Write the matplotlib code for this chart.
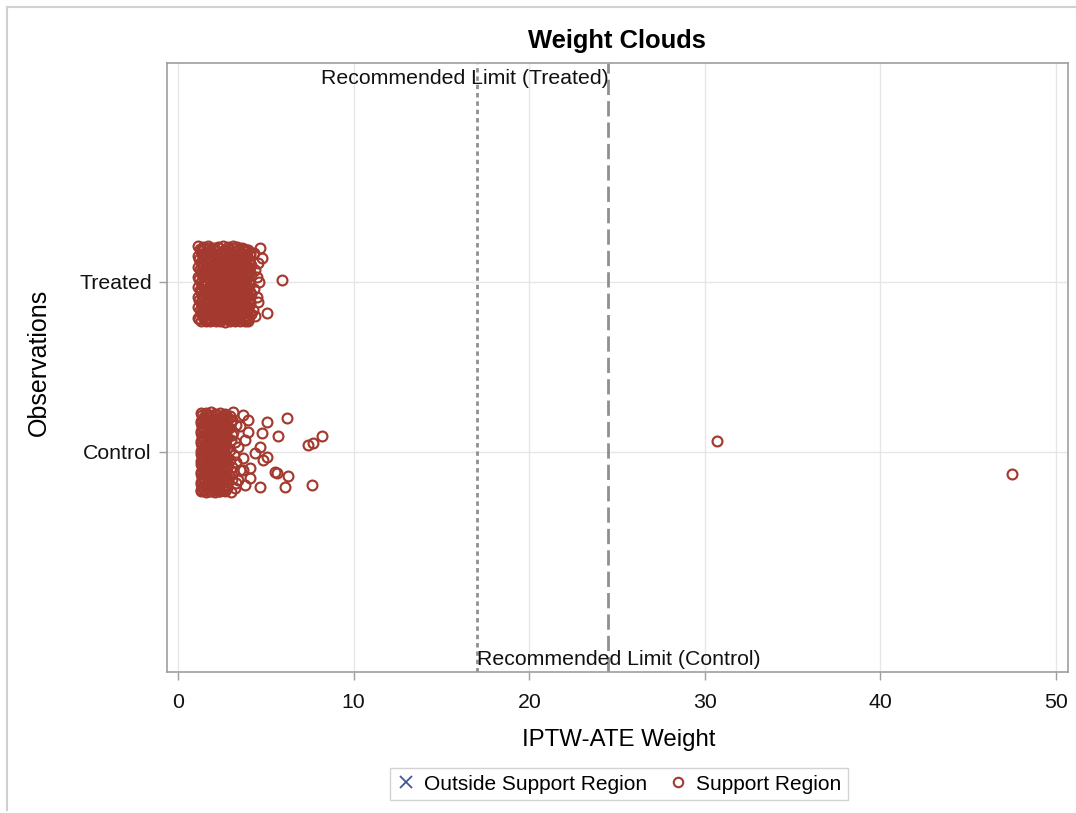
import matplotlib.pyplot as plt
from matplotlib.lines import Line2D

plt.rcParams["font.family"] = ["Liberation Sans", "DejaVu Sans"]

GROUPS = ["Control", "Treated"]
LIMIT_CONTROL = 17.0
LIMIT_TREATED = 24.5

# IPTW-ATE weights per observation, with the vertical jitter used to spread them
treated_x = [
    1.16, 1.44, 1.70, 1.99, 2.26, 2.56, 2.82, 3.12, 3.38, 3.66, 3.93,
    1.30, 1.57, 1.86, 2.12, 2.42, 2.68, 2.97, 3.24, 3.53, 3.80, 4.08,
    1.14, 1.42, 1.72, 1.98, 2.28, 2.54, 2.84, 3.10, 3.40, 3.68, 3.95,
    1.28, 1.58, 1.84, 2.14, 2.40, 2.70, 2.96, 3.26, 3.52, 3.82, 4.05,
    1.15, 1.44, 1.70, 2.00, 2.26, 2.56, 2.82, 3.12, 3.38, 3.66, 3.90,
    1.30, 1.56, 1.86, 2.12, 2.42, 2.68, 2.98, 3.24, 3.54, 3.80, 4.10,
    1.16, 1.42, 1.72, 1.98, 2.28, 2.54, 2.84, 3.10, 3.40, 3.68, 3.96,
    1.29, 1.58, 1.84, 2.14, 2.40, 2.70, 2.96, 3.26, 3.52, 3.82, 4.06,
    1.15, 1.44, 1.70, 2.00, 2.26, 2.56, 2.82, 3.12, 3.38, 3.66, 3.92,
    1.30, 1.56, 1.86, 2.12, 2.42, 2.68, 2.98, 3.24, 3.54, 3.80, 4.08,
    1.16, 1.42, 1.72, 1.98, 2.28, 2.54, 2.84, 3.10, 3.40, 3.68, 3.94,
    1.28, 1.58, 1.84, 2.14, 2.40, 2.70, 2.96, 3.26, 3.52, 3.82, 4.10,
    1.15, 1.44, 1.70, 2.00, 2.26, 2.56, 2.82, 3.12, 3.38, 3.66, 3.95,
    1.30, 1.56, 1.86, 2.12, 2.42, 2.68, 2.98, 3.24, 3.54, 3.80, 4.05,
    1.16, 1.42, 1.72, 1.98, 2.28, 2.54, 2.84, 3.10, 3.40, 3.68, 3.96,
    1.30, 1.58, 1.84, 2.14, 2.40, 2.70, 2.96, 3.26, 3.52, 3.82, 4.00,
    1.23, 1.50, 1.78, 2.06, 2.34, 2.62, 2.90, 3.18, 3.46, 3.74, 4.00,
    1.36, 1.64, 1.92, 2.20, 2.48, 2.76, 3.04, 3.32, 3.60, 3.88, 4.12,
    1.22, 1.51, 1.77, 2.06, 2.33, 2.62, 2.91, 3.18, 3.47, 3.74, 4.02,
    1.36, 1.63, 1.92, 2.21, 2.48, 2.76, 3.03, 3.32, 3.60, 3.89, 4.14,
    1.23, 1.50, 1.79, 2.06, 2.34, 2.61, 2.90, 3.19, 3.46, 3.75, 3.99,
    1.35, 1.64, 1.92, 2.20, 2.49, 2.76, 3.04, 3.32, 3.61, 3.88, 4.15,
    1.22, 1.50, 1.78, 2.07, 2.34, 2.62, 2.90, 3.18, 3.46, 3.74, 4.03,
    1.36, 1.64, 1.91, 2.20, 2.48, 2.77, 3.04, 3.31, 3.60, 3.88, 4.12,
    1.23, 1.51, 1.78, 2.06, 2.33, 2.62, 2.91, 3.18, 3.47, 3.74, 4.00,
    1.36, 1.63, 1.92, 2.21, 2.48, 2.76, 3.03, 3.32, 3.60, 3.89, 4.16,
    1.22, 1.50, 1.79, 2.06, 2.34, 2.61, 2.90, 3.19, 3.46, 3.75, 4.02,
    1.35, 1.64, 1.92, 2.20, 2.49, 2.76, 3.04, 3.32, 3.61, 3.88, 4.10,
    1.23, 1.50, 1.78, 2.07, 2.34, 2.62, 2.90, 3.18, 3.46, 3.74, 4.01,
    1.36, 1.64, 1.91, 2.20, 2.48, 2.77, 3.04, 3.31, 3.60, 3.88, 4.13,
    1.22, 1.51, 1.78, 2.06, 2.33, 2.62, 2.91, 3.18, 3.47, 3.74, 3.98,
    4.67, 4.78, 4.56, 4.35, 4.50, 4.40, 4.60, 4.30, 4.50, 4.56, 4.27, 4.40,
    5.92, 5.07,
]
treated_y = [
    0.210, 0.205, 0.212, 0.200, 0.208, 0.214, 0.203, 0.210, 0.206, 0.200, 0.190,
    0.180, 0.176, 0.184, 0.180, 0.172, 0.182, 0.178, 0.185, 0.174, 0.180, 0.170,
    0.150, 0.154, 0.146, 0.152, 0.148, 0.155, 0.150, 0.144, 0.152, 0.147, 0.150,
    0.120, 0.116, 0.124, 0.118, 0.122, 0.115, 0.120, 0.125, 0.117, 0.121, 0.120,
    0.090, 0.094, 0.087, 0.092, 0.085, 0.090, 0.095, 0.088, 0.091, 0.086, 0.090,
    0.060, 0.056, 0.063, 0.058, 0.064, 0.060, 0.055, 0.062, 0.058, 0.061, 0.060,
    0.030, 0.034, 0.027, 0.032, 0.026, 0.030, 0.035, 0.028, 0.031, 0.025, 0.030,
    0.000, -0.004, 0.003, -0.002, 0.005, 0.000, -0.005, 0.002, -0.003, 0.004, 0.000,
    -0.030, -0.026, -0.034, -0.028, -0.032, -0.025, -0.030, -0.035, -0.027, -0.031, -0.030,
    -0.060, -0.064, -0.056, -0.062, -0.058, -0.065, -0.060, -0.055, -0.063, -0.059, -0.060,
    -0.090, -0.086, -0.094, -0.088, -0.092, -0.085, -0.090, -0.095, -0.087, -0.091, -0.090,
    -0.120, -0.124, -0.116, -0.122, -0.118, -0.125, -0.120, -0.115, -0.123, -0.119, -0.120,
    -0.150, -0.146, -0.154, -0.148, -0.152, -0.145, -0.150, -0.155, -0.147, -0.151, -0.150,
    -0.180, -0.184, -0.176, -0.182, -0.178, -0.185, -0.180, -0.175, -0.183, -0.179, -0.180,
    -0.210, -0.206, -0.214, -0.208, -0.212, -0.205, -0.210, -0.215, -0.207, -0.211, -0.210,
    -0.230, -0.232, -0.228, -0.231, -0.229, -0.233, -0.230, -0.227, -0.232, -0.229, -0.230,
    0.195, 0.192, 0.198, 0.194, 0.197, 0.191, 0.196, 0.199, 0.193, 0.195, 0.190,
    0.165, 0.168, 0.162, 0.166, 0.163, 0.169, 0.164, 0.161, 0.167, 0.165, 0.160,
    0.135, 0.132, 0.138, 0.134, 0.137, 0.131, 0.136, 0.139, 0.133, 0.135, 0.130,
    0.105, 0.108, 0.102, 0.106, 0.103, 0.109, 0.104, 0.101, 0.107, 0.105, 0.100,
    0.075, 0.072, 0.078, 0.074, 0.077, 0.071, 0.076, 0.079, 0.073, 0.075, 0.070,
    0.045, 0.048, 0.042, 0.046, 0.043, 0.049, 0.044, 0.041, 0.047, 0.045, 0.040,
    0.015, 0.012, 0.018, 0.014, 0.017, 0.011, 0.016, 0.019, 0.013, 0.015, 0.010,
    -0.015, -0.012, -0.018, -0.014, -0.017, -0.011, -0.016, -0.019, -0.013, -0.015, -0.010,
    -0.045, -0.048, -0.042, -0.046, -0.043, -0.049, -0.044, -0.041, -0.047, -0.045, -0.040,
    -0.075, -0.072, -0.078, -0.074, -0.077, -0.071, -0.076, -0.079, -0.073, -0.075, -0.070,
    -0.105, -0.108, -0.102, -0.106, -0.103, -0.109, -0.104, -0.101, -0.107, -0.105, -0.100,
    -0.135, -0.132, -0.138, -0.134, -0.137, -0.131, -0.136, -0.139, -0.133, -0.135, -0.130,
    -0.165, -0.168, -0.162, -0.166, -0.163, -0.169, -0.164, -0.161, -0.167, -0.165, -0.160,
    -0.195, -0.192, -0.198, -0.194, -0.197, -0.191, -0.196, -0.199, -0.193, -0.195, -0.190,
    -0.220, -0.218, -0.222, -0.219, -0.221, -0.217, -0.220, -0.223, -0.218, -0.221, -0.215,
    0.200, 0.140, 0.110, 0.170, 0.030, 0.070, 0.000, -0.040, -0.090, -0.120, -0.165, -0.200,
    0.010, -0.180,
]

control_x = [
    1.29, 1.57, 1.85, 2.13, 2.41, 2.69,
    1.43, 1.71, 1.99, 2.27, 2.55, 2.80,
    1.29, 1.57, 1.85, 2.13, 2.41, 2.69,
    1.43, 1.71, 1.99, 2.27, 2.55, 2.80,
    1.29, 1.57, 1.85, 2.13, 2.41, 2.69,
    1.43, 1.71, 1.99, 2.27, 2.55, 2.80,
    1.29, 1.57, 1.85, 2.13, 2.41, 2.69,
    1.43, 1.71, 1.99, 2.27, 2.55, 2.80,
    1.29, 1.57, 1.85, 2.13, 2.41, 2.69,
    1.43, 1.71, 1.99, 2.27, 2.55, 2.80,
    1.29, 1.57, 1.85, 2.13, 2.41, 2.69,
    1.43, 1.71, 1.99, 2.27, 2.55, 2.80,
    1.29, 1.57, 1.85, 2.13, 2.41, 2.69,
    1.43, 1.71, 1.99, 2.27, 2.55, 2.80,
    1.29, 1.57, 1.85, 2.13, 2.41, 2.69,
    1.43, 1.71, 1.99, 2.27, 2.55, 2.80,
    1.29, 1.57, 1.85, 2.13, 2.41, 2.69,
    1.36, 1.64, 1.92, 2.20, 2.48, 2.74,
    1.30, 1.50, 1.78, 2.06, 2.34, 2.62,
    1.36, 1.64, 1.92, 2.20, 2.48, 2.74,
    1.30, 1.50, 1.78, 2.06, 2.34, 2.62,
    1.36, 1.64, 1.92, 2.20, 2.48, 2.74,
    1.30, 1.50, 1.78, 2.06, 2.34, 2.62,
    1.36, 1.64, 1.92, 2.20, 2.48, 2.74,
    1.30, 1.50, 1.78, 2.06, 2.34, 2.62,
    1.36, 1.64, 1.92, 2.20, 2.48, 2.74,
    1.30, 1.50, 1.78, 2.06, 2.34, 2.62,
    1.36, 1.64, 1.92, 2.20, 2.48, 2.74,
    1.30, 1.50, 1.78, 2.06, 2.34, 2.62,
    1.36, 1.64, 1.92, 2.20, 2.48, 2.74,
    1.30, 1.50, 1.78, 2.06, 2.34, 2.62,
    1.36, 1.64, 1.92, 2.20, 2.48, 2.74,
    1.30, 1.50, 1.78, 2.06, 2.34, 2.62,
    3.13, 3.30, 3.02, 3.19, 3.08, 3.30, 3.00, 3.42, 3.53, 3.70,
    3.99, 3.99, 3.53, 4.10, 3.70, 4.10, 3.42, 4.38, 4.67, 4.78,
    5.07, 6.20, 5.69, 5.07, 4.84, 5.52, 5.64, 6.26, 4.67, 6.09,
    7.63, 7.40, 7.69, 8.20, 3.82, 3.70, 3.30, 2.90, 2.90, 3.08, 3.82,
    2.95, 3.05, 2.98, 3.10, 2.96, 3.04, 3.22, 3.15, 3.25, 3.12,
    30.7, 47.5,
]
control_y = [
    0.232, 0.228, 0.233, 0.226, 0.230, 0.224,
    0.200, 0.205, 0.196, 0.202, 0.198, 0.204,
    0.170, 0.166, 0.174, 0.168, 0.172, 0.165,
    0.140, 0.145, 0.136, 0.142, 0.138, 0.144,
    0.110, 0.106, 0.114, 0.108, 0.112, 0.105,
    0.080, 0.085, 0.076, 0.082, 0.078, 0.084,
    0.050, 0.046, 0.054, 0.048, 0.052, 0.045,
    0.020, 0.025, 0.016, 0.022, 0.018, 0.024,
    -0.010, -0.014, -0.006, -0.012, -0.008, -0.015,
    -0.040, -0.035, -0.044, -0.038, -0.042, -0.036,
    -0.070, -0.074, -0.066, -0.072, -0.068, -0.075,
    -0.100, -0.095, -0.104, -0.098, -0.102, -0.096,
    -0.130, -0.134, -0.126, -0.132, -0.128, -0.135,
    -0.160, -0.155, -0.164, -0.158, -0.162, -0.156,
    -0.190, -0.194, -0.186, -0.192, -0.188, -0.195,
    -0.215, -0.212, -0.218, -0.214, -0.216, -0.210,
    -0.232, -0.234, -0.230, -0.233, -0.231, -0.228,
    0.215, 0.218, 0.212, 0.216, 0.213, 0.219,
    0.185, 0.182, 0.188, 0.184, 0.187, 0.181,
    0.155, 0.158, 0.152, 0.156, 0.153, 0.159,
    0.125, 0.122, 0.128, 0.124, 0.127, 0.121,
    0.095, 0.098, 0.092, 0.096, 0.093, 0.099,
    0.065, 0.062, 0.068, 0.064, 0.067, 0.061,
    0.035, 0.038, 0.032, 0.036, 0.033, 0.039,
    0.005, 0.002, 0.008, 0.004, 0.007, 0.001,
    -0.025, -0.022, -0.028, -0.024, -0.027, -0.021,
    -0.055, -0.058, -0.052, -0.056, -0.053, -0.059,
    -0.085, -0.082, -0.088, -0.084, -0.087, -0.081,
    -0.115, -0.118, -0.112, -0.116, -0.113, -0.119,
    -0.145, -0.142, -0.148, -0.144, -0.147, -0.141,
    -0.175, -0.178, -0.172, -0.176, -0.173, -0.179,
    -0.205, -0.202, -0.208, -0.204, -0.207, -0.201,
    -0.225, -0.222, -0.228, -0.224, -0.227, -0.221,
    0.235, 0.160, 0.070, -0.020, -0.090, -0.180, -0.235, 0.030, 0.150, 0.220,
    0.190, 0.120, -0.105, -0.095, -0.035, -0.150, -0.165, -0.005, 0.030, 0.110,
    0.175, 0.200, 0.095, -0.030, -0.045, -0.120, -0.125, -0.140, -0.205, -0.205,
    -0.195, 0.040, 0.055, 0.095, 0.070, -0.105, -0.060, 0.140, -0.135, 0.190, -0.195,
    0.210, 0.100, -0.050, -0.160, 0.010, 0.180, 0.060, -0.120, -0.210, 0.120,
    0.065, -0.130,
]

# no observations fall outside the common support here
outside_x = []
outside_y = []

RED = "#a43a2f"
BLUE = "#445694"
GRID = "#e6e6e6"
FRAME = "#9e9e9e"
REF = "#8f8f8f"
W, H = 1076, 813


def main() -> None:
    assert len(treated_x) == len(treated_y)
    assert len(control_x) == len(control_y)

    fig = plt.figure(figsize=(W / 100, H / 100), dpi=100)
    ax = fig.add_axes([167 / W, 1 - 672 / H, 901 / W, 609 / H])

    marker_style = dict(
        linestyle="none", marker="o", markersize=7.1, markeredgewidth=1.55,
        markerfacecolor="none", markeredgecolor=RED,
    )
    base = {name: i for i, name in enumerate(GROUPS)}
    ax.plot(control_x, [base["Control"] + j for j in control_y], **marker_style, zorder=3)
    ax.plot(treated_x, [base["Treated"] + j for j in treated_y], **marker_style, zorder=3)
    ax.plot(outside_x, outside_y, linestyle="none", marker="x", color=BLUE, zorder=3)

    ax.axvline(LIMIT_CONTROL, color=REF, linewidth=2.0, linestyle=(0, (1.6, 1.4)), zorder=2)
    ax.axvline(LIMIT_TREATED, color=REF, linewidth=2.0, linestyle=(0, (5.5, 2.2)), zorder=2)
    ax.text(LIMIT_TREATED, 2.288 - 0.035, "Recommended Limit (Treated)", ha="right", va="top",
            fontsize=15.3, color="#111111", zorder=4)
    ax.text(LIMIT_CONTROL, -1.294 + 0.02, "Recommended Limit (Control)", ha="left", va="bottom",
            fontsize=15.3, color="#111111", zorder=4)

    ax.set_xlim(-0.63, 50.68)
    ax.set_ylim(-1.294, 2.288)
    ax.set_xticks([0, 10, 20, 30, 40, 50])
    ax.set_yticks([base[g] for g in GROUPS])
    ax.set_yticklabels(GROUPS)
    ax.grid(True, color=GRID, linewidth=1.0, zorder=0)
    ax.set_axisbelow(True)
    for spine in ax.spines.values():
        spine.set_color(FRAME)
        spine.set_linewidth(1.2)
    ax.tick_params(axis="both", direction="out", length=6, width=1.0, color=FRAME,
                   labelsize=15.3, labelcolor="#111111", pad=5)
    ax.tick_params(axis="x", pad=9)

    fig.text(617 / W, 1 - 41 / H, "Weight Clouds", ha="center", va="center",
             fontsize=18.4, fontweight="bold")
    ax.set_xlabel("IPTW-ATE Weight", fontsize=17.3, va="center")
    ax.xaxis.set_label_coords((619 - 167) / 901, (672 - 740) / 609)
    ax.set_ylabel("Observations", fontsize=18, va="center")
    ax.yaxis.set_label_coords((39 - 167) / 901, (672 - 362) / 609)

    handles = [
        Line2D([], [], linestyle="none", marker="x", markersize=9, markeredgewidth=1.3, color=BLUE),
        Line2D([], [], linestyle="none", marker="o", markersize=6.8, markeredgewidth=1.5,
               markerfacecolor="none", markeredgecolor=RED),
    ]
    leg = fig.legend(handles, ["Outside Support Region", "Support Region"], loc="center",
                     bbox_to_anchor=(619 / W, 1 - 784 / H), ncol=2, fontsize=15,
                     frameon=True, fancybox=False, handlelength=0.9, handletextpad=0.45,
                     columnspacing=1.0, borderpad=0.3, borderaxespad=0)
    leg.get_frame().set_edgecolor("#c8c8c8")
    leg.get_frame().set_linewidth(1.0)

    # thin outer border of the graph
    border = dict(color="#d0d0d0", linewidth=1.5, transform=fig.transFigure)
    fig.add_artist(Line2D([7 / W, 1.0], [1 - 7 / H, 1 - 7 / H], **border))
    fig.add_artist(Line2D([7 / W, 7 / W], [1 - 7 / H, 3 / H], **border))

    fig.savefig("out.png", dpi=100)
    plt.close(fig)


if __name__ == "__main__":
    main()
